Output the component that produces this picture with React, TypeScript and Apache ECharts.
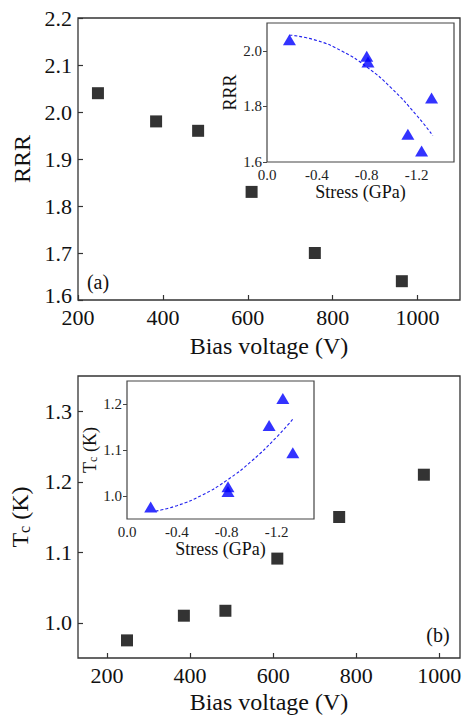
import React, { useEffect, useRef } from "react";
import * as echarts from "echarts";

// Panel (a): RRR vs bias voltage
const biasA = [247, 384, 483, 609, 758, 963];
const rrr = [2.04, 1.98, 1.96, 1.83, 1.7, 1.64];
// Inset (a): RRR vs stress
const stressA = [-0.18, -0.8, -0.81, -1.32, -1.13, -1.24];
const rrrInset = [2.04, 1.98, 1.96, 1.83, 1.7, 1.64];
const fitAStress = [-0.18, -0.4, -0.6, -0.8, -1.0, -1.2, -1.33];
const fitARRR = [2.057, 2.037, 1.999, 1.942, 1.865, 1.768, 1.695];

// Panel (b): Tc vs bias voltage
const biasB = [248, 385, 485, 610, 759, 963];
const tc = [0.975, 1.01, 1.017, 1.091, 1.15, 1.21];
// Inset (b): Tc vs stress
const stressB = [-0.19, -0.81, -0.81, -1.14, -1.25, -1.33];
const tcInset = [0.976, 1.02, 1.01, 1.153, 1.212, 1.094];
const fitBStress = [-0.23, -0.4, -0.6, -0.8, -1.0, -1.2, -1.33];
const fitBTc = [0.967, 0.979, 1.0015, 1.034, 1.076, 1.128, 1.167];

// Tick values
const biasTicksA = [200, 400, 600, 800, 1000];
const rrrTicks = [1.6, 1.7, 1.8, 1.9, 2.0, 2.1, 2.2];
const stressTicks = [0, -0.4, -0.8, -1.2];
const rrrInsetTicks = [1.6, 1.8, 2.0];
const biasTicksB = [200, 400, 600, 800, 1000];
const tcTicks = [1.0, 1.1, 1.2, 1.3];
const tcInsetTicks = [1.0, 1.1, 1.2];

const FONT = "Liberation Serif";
const zip = (a: number[], b: number[]) => a.map((v, i) => [v, b[i]]);

export default function App() {
  const ref = useRef<HTMLDivElement>(null);
  useEffect(() => {
    if (!ref.current) return;
    const chart = echarts.init(ref.current, null, { renderer: "svg" });
    const frame = "#333";
    const mainGrid = (top: number) => ({
      left: 78, top, width: 382, height: 282, show: true,
      borderColor: frame, borderWidth: 1.3, backgroundColor: "transparent",
      outerBoundsMode: "none", containLabel: false,
    });
    const insetGrid = (left: number, top: number, height: number) => ({
      left, top, width: 187, height, show: true,
      borderColor: "#444", borderWidth: 1.2, backgroundColor: "#fff",
      outerBoundsMode: "none", containLabel: false, z: 5,
    });
    const mainX = (gridIndex: number, min: number, max: number, ticks: number[], nameGap: number) => ({
      type: "value", gridIndex, min, max, name: "Bias voltage (V)", nameLocation: "middle", nameGap,
      nameTextStyle: { fontFamily: FONT, fontSize: 24, color: "#111" },
      axisLine: { show: false },
      axisTick: { show: true, inside: true, length: 5, customValues: ticks, lineStyle: { color: frame, width: 1.2 } },
      axisLabel: { customValues: ticks, fontFamily: FONT, fontSize: 22, lineHeight: 18, color: "#111", margin: 8, formatter: (v: number) => String(v) },
      splitLine: { show: false },
    });
    const mainY = (gridIndex: number, min: number, max: number, ticks: number[], name: string, nameGap: number, rich?: any, raiseMin?: boolean) => ({
      type: "value", gridIndex, min, max, name, nameLocation: "middle", nameGap,
      nameTextStyle: { fontFamily: FONT, fontSize: 24, color: "#111", rich },
      axisLine: { show: false },
      axisTick: { show: true, inside: true, length: 5, customValues: ticks, lineStyle: { color: frame, width: 1.2 } },
      axisLabel: {
        customValues: ticks, fontFamily: FONT, fontSize: 22, lineHeight: 16, color: "#111", margin: 6,
        formatter: (v: number) => (raiseMin && Math.abs(v - min) < 1e-9 ? `{lo|${v.toFixed(1)}}` : v.toFixed(1)),
        rich: { lo: { fontFamily: FONT, fontSize: 22, lineHeight: 16, color: "#111", padding: [0, 0, 10, 0] } },
      },
      splitLine: { show: false },
    });
    const insetX = (gridIndex: number) => ({
      type: "value", gridIndex, min: -1.5, max: 0, inverse: true, name: "Stress (GPa)", nameLocation: "middle", nameGap: 21,
      nameTextStyle: { fontFamily: FONT, fontSize: 18, color: "#111" },
      axisLine: { show: false },
      axisTick: { show: true, inside: true, length: 4, customValues: stressTicks, lineStyle: { color: "#444", width: 1 } },
      axisLabel: { customValues: stressTicks, fontFamily: FONT, fontSize: 15, lineHeight: 13, color: "#222", margin: 6, formatter: (v: number) => v.toFixed(1) },
      splitLine: { show: false },
    });
    const insetY = (gridIndex: number, min: number, max: number, ticks: number[], name: string, nameGap: number, rich?: any) => ({
      type: "value", gridIndex, min, max, name, nameLocation: "middle", nameGap,
      nameTextStyle: { fontFamily: FONT, fontSize: 18, color: "#111", rich },
      axisLine: { show: false },
      axisTick: { show: true, inside: false, length: 4, customValues: ticks, lineStyle: { color: "#444", width: 1 } },
      axisLabel: { customValues: ticks, fontFamily: FONT, fontSize: 15, lineHeight: 12, color: "#222", margin: 5, formatter: (v: number) => v.toFixed(1) },
      splitLine: { show: false },
    });
    const tcRich = (big: number, small: number) => ({
      t: { fontFamily: FONT, fontSize: big, color: "#111" },
      s: { fontFamily: FONT, fontSize: small, color: "#111", verticalAlign: "bottom" },
    });
    const square = (xAxisIndex: number, data: number[][]) => ({
      type: "scatter", xAxisIndex, yAxisIndex: xAxisIndex, data, symbol: "rect", symbolSize: 12,
      itemStyle: { color: "#000" }, z: 3,
    });
    const tri = (xAxisIndex: number, data: number[][]) => ({
      type: "scatter", xAxisIndex, yAxisIndex: xAxisIndex, data, symbol: "triangle", symbolSize: [13, 11],
      itemStyle: { color: "#0000ff" }, z: 7,
    });
    const fit = (xAxisIndex: number, data: number[][]) => ({
      type: "line", xAxisIndex, yAxisIndex: xAxisIndex, data, symbol: "none", smooth: true,
      lineStyle: { color: "#2222ee", width: 1.1, type: [3, 2] }, z: 6,
    });

    chart.setOption({
      animation: false,
      backgroundColor: "#fff",
      grid: [mainGrid(18), insetGrid(267, 23, 139), mainGrid(376), insetGrid(127, 381, 138)],
      xAxis: [
        mainX(0, 200, 1100, biasTicksA, 34),
        insetX(1),
        mainX(2, 130, 1050, biasTicksB, 32),
        insetX(3),
      ],
      yAxis: [
        mainY(0, 1.6, 2.2, rrrTicks, "RRR", 41, undefined, true),
        insetY(1, 1.6, 2.1, rrrInsetTicks, "RRR", 28),
        mainY(2, 0.95, 1.35, tcTicks, "{t|T}{s|c}{t| (K)}", 46, tcRich(24, 16)),
        insetY(3, 0.95, 1.25, tcInsetTicks, "{t|T}{s|c}{t| (K)}", 26, tcRich(18, 12)),
      ],
      series: [
        square(0, zip(biasA, rrr)),
        fit(1, zip(fitAStress, fitARRR)),
        tri(1, zip(stressA, rrrInset)),
        square(2, zip(biasB, tc)),
        fit(3, zip(fitBStress, fitBTc)),
        tri(3, zip(stressB, tcInset)),
      ],
      graphic: [
        { type: "text", x: 98, y: 282, z: 10, style: { text: "(a)", font: `20px "${FONT}"`, align: "center", verticalAlign: "middle", fill: "#111" } },
        { type: "text", x: 438, y: 635, z: 10, style: { text: "(b)", font: `20px "${FONT}"`, align: "center", verticalAlign: "middle", fill: "#111" } },
      ],
    } as any);
    return () => chart.dispose();
  }, []);
  return <div ref={ref} style={{ position: "absolute", left: 0, top: 0, width: 463, height: 719 }} />;
}
